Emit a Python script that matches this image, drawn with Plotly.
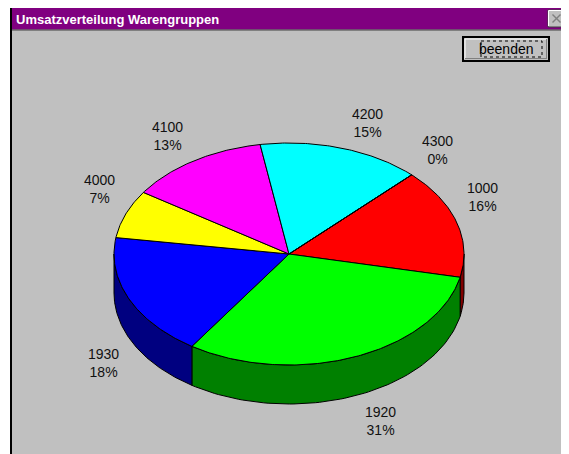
import numpy as np
import plotly.graph_objects as go

# ---- data ----
groups = ["1000", "1920", "1930", "4000", "4100", "4200", "4300"]
shares = [16, 31, 18, 7, 13, 15, 0]
top_colors = ["#FF0000", "#00FF00", "#0000FF", "#FFFF00", "#FF00FF", "#00FFFF", "#808080"]
side_colors = ["#800000", "#008000", "#000080", "#808000", "#800080", "#008080", "#404040"]
title_text = "Umsatzverteilung Warengruppen"
button_text = "beenden"

# ---- geometry (page pixel space; page body has an 8px margin) ----
W, H = 569, 454
OFF = 8
CX, CY, RX, RY, DEPTH = 289, 254, 175, 111, 39
START = 45.5
GAP_X, GAP_Y = 26, 25
FONT = "Liberation Sans"

total = float(sum(shares))
bounds = [START]
for s in shares:
    bounds.append(bounds[-1] - s / total * 360.0)


def ell(a_deg, dy=0.0):
    a = np.radians(a_deg)
    return CX + RX * np.cos(a), CY - RY * np.sin(a) + dy


fig = go.Figure()

# side walls (front half only: angles in [-180, 0])
for i in range(len(shares)):
    hi, lo = bounds[i], bounds[i + 1]
    a1, a2 = min(hi, 0.0), max(lo, -180.0)
    if a1 - a2 <= 0:
        continue
    arc = np.linspace(a2, a1, 80)
    xt, yt = ell(arc)
    xb, yb = ell(arc[::-1], DEPTH)
    xs = np.concatenate([xt, xb, xt[:1]])
    ys = np.concatenate([yt, yb, yt[:1]])
    fig.add_trace(go.Scatter(x=xs, y=ys, mode="lines", fill="toself",
                             fillcolor=side_colors[i],
                             line=dict(color="black", width=1),
                             hoverinfo="skip", showlegend=False))

# top faces
for i in range(len(shares)):
    hi, lo = bounds[i], bounds[i + 1]
    n = max(2, int(abs(hi - lo) * 1.5))
    arc = np.linspace(hi, lo, n)
    xa, ya = ell(arc)
    xs = np.concatenate([[CX], xa, [CX]])
    ys = np.concatenate([[CY], ya, [CY]])
    fig.add_trace(go.Scatter(x=xs, y=ys, mode="lines", fill="toself",
                             fillcolor=top_colors[i],
                             line=dict(color="black", width=1),
                             hoverinfo="skip", showlegend=False))

# labels: outside the rim at each slice's mid angle
annotations = []
for i, (g, s) in enumerate(zip(groups, shares)):
    mid = (bounds[i] + bounds[i + 1]) / 2.0
    a = np.radians(mid)
    ex, ey = ell(mid)
    lx = ex + GAP_X * np.sign(np.cos(a))
    ly = ey - GAP_Y * np.sign(np.sin(a)) + (DEPTH if np.sin(a) < 0 else 0)
    annotations.append(dict(x=lx, y=ly, xref="x", yref="y", showarrow=False,
                            text=f"{g}<br>{s}%", align="center",
                            font=dict(family=FONT, size=14, color="#111111")))

# window title & button text
annotations.append(dict(x=14, y=19, xref="x", yref="y", xanchor="left", yanchor="middle",
                        showarrow=False, text=title_text,
                        font=dict(family=FONT, size=13, color="white", weight="bold")))
annotations.append(dict(x=506, y=49, xref="x", yref="y", showarrow=False,
                        text=button_text, font=dict(family=FONT, size=14, color="black")))

shapes = [
    # window body
    dict(type="rect", x0=10, y0=7, x1=575, y1=460, fillcolor="#C0C0C0", line_width=0, layer="below"),
    dict(type="line", x0=11, y0=7, x1=11, y1=460, line=dict(color="black", width=2), layer="below"),
    # title bar
    dict(type="rect", x0=12, y0=8, x1=575, y1=29.5, fillcolor="#800080", line_width=0, layer="below"),
    dict(type="line", x0=12, y0=30, x1=575, y1=30, line=dict(color="#404040", width=1), layer="below"),
    # close button
    dict(type="rect", x0=548, y0=10, x1=565, y1=27, fillcolor="#C0C0C0", line=dict(color="#404040", width=1), layer="below"),
    dict(type="line", x0=548.5, y0=10.5, x1=564, y1=10.5, line=dict(color="white", width=1), layer="below"),
    dict(type="line", x0=548.5, y0=10.5, x1=548.5, y1=26, line=dict(color="white", width=1), layer="below"),
    dict(type="line", x0=552.5, y0=14.5, x1=560.5, y1=22.5, line=dict(color="#808080", width=1.5), layer="below"),
    dict(type="line", x0=560.5, y0=14.5, x1=552.5, y1=22.5, line=dict(color="#808080", width=1.5), layer="below"),
    # button
    dict(type="rect", x0=463, y0=37, x1=549, y1=61, fillcolor="#C0C0C0", line=dict(color="black", width=2), layer="below"),
    dict(type="line", x0=465, y0=39, x1=547, y1=39, line=dict(color="white", width=1), layer="below"),
    dict(type="line", x0=465, y0=39, x1=465, y1=59, line=dict(color="white", width=1), layer="below"),
    dict(type="line", x0=465, y0=58.5, x1=547, y1=58.5, line=dict(color="#808080", width=1), layer="below"),
    dict(type="line", x0=546.5, y0=39, x1=546.5, y1=59, line=dict(color="#808080", width=1), layer="below"),
    dict(type="rect", x0=481, y0=41, x1=542, y1=57, line=dict(color="black", width=1, dash="dot"), layer="below"),
]

fig.update_layout(
    width=W - OFF, height=H - OFF, autosize=False,
    margin=dict(l=0, r=0, t=0, b=0),
    paper_bgcolor="white", plot_bgcolor="white",
    xaxis=dict(range=[OFF, W], visible=False, fixedrange=True),
    yaxis=dict(range=[H, OFF], visible=False, fixedrange=True),
    shapes=shapes, annotations=annotations, showlegend=False,
)

fig.write_html("out.html")
